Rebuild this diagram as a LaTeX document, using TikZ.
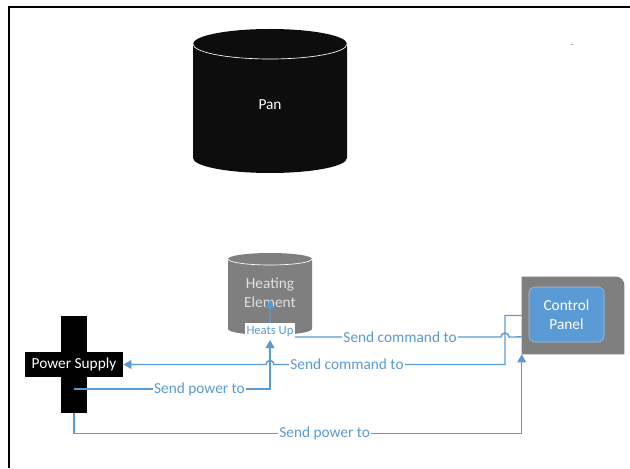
\documentclass[tikz,border=0pt]{standalone}
\usepackage{fontspec}
\setmainfont{Carlito}
\usepackage{xcolor}
\usetikzlibrary{arrows.meta, positioning, calc}

\definecolor{linkblue}{HTML}{5B9BD5}
\definecolor{shapegray}{HTML}{7F7F7F}
\definecolor{panblack}{HTML}{0D0D0D}
\definecolor{panelrim}{HTML}{A9C4E0}

\begin{document}
\begin{tikzpicture}[
    x=0.75pt, y=0.75pt,
    font=\fontsize{11.5}{14}\selectfont,
    rim/.style={draw=white, line width=0.5pt},
    bar/.style={rectangle, fill=black, inner sep=0pt},
    link/.style={draw=linkblue, line width=1.1pt, ->, >={Triangle[length=6pt,width=6.5pt]}},
    lbl/.style={fill=white, text=linkblue, inner sep=1pt}
]
\useasboundingbox (0,0) rectangle (630,468);

% Page frame
\draw[line width=1.6pt] (9,0) -- (9,461) -- (630,461);

% Pan (cylinder, rx=77 ry=15)
\fill[panblack] (193,424) -- (193,310) arc[start angle=180, end angle=360, x radius=77, y radius=15]
    -- (347,424) arc[start angle=0, end angle=180, x radius=77, y radius=15] -- cycle;
\draw[rim] (193,424) arc[start angle=180, end angle=360, x radius=77, y radius=15];
\node[text=white] (pan) at (270,363) {Pan};

% Heating element (cylinder, rx=42 ry=6)
\fill[shapegray] (228,209) -- (228,139) arc[start angle=180, end angle=360, x radius=42, y radius=6]
    -- (312,209) arc[start angle=0, end angle=180, x radius=42, y radius=6] -- cycle;
\draw[rim] (228,209) arc[start angle=180, end angle=360, x radius=42, y radius=6];
\node[text=white!88!black, align=center] (heat) at (270,175.5) {Heating\\Element};
\coordinate (heatin) at (270,128);

% Power supply (cross)
\node[bar, minimum width=19.5pt, minimum height=72.75pt] (powerbar) at (74,103.5) {};
\node[bar, minimum width=73.5pt, minimum height=18.75pt, text=white] (power) at (74,103.5) {Power Supply};

% Control panel
\node[minimum width=76.5pt, minimum height=57.75pt, inner sep=0pt] (panelbox) at (573,152.5) {};
\fill[shapegray] (panelbox.south west) -- (panelbox.north west) -- ([xshift=-6pt]panelbox.north east)
    arc[start angle=90, end angle=0, radius=6pt] -- (panelbox.south east) -- cycle;
\node[rectangle, rounded corners=4.5pt, fill=linkblue, draw=panelrim, text=white, align=center,
    minimum width=56.25pt, minimum height=41.25pt] (panel) at (566.5,153.5) {Control\\Panel};

% Stray mark
\node[text=gray, font=\scriptsize] (mark) at (572,422) {-};

% Command to power supply
\draw[link] (panelbox.west) -- (505,152.5) -- (505,103.5) -- node[lbl, pos=0.684] {Send command to} (274,103.5)
    arc[start angle=0, end angle=180, radius=4] -- (power.east);

% Command to heating element
\draw[link] ([yshift=-16.1pt]panelbox.west) -- (509,131) arc[start angle=0, end angle=180, radius=4]
    -- node[lbl, pos=0.437] {Send command to} (270,131)
    -- node[lbl, pos=0.16, font=\fontsize{9.5}{11}\selectfont, minimum height=12pt] {Heats Up} ($(heat.center)+(0,-7.5)$);

% Power to heating element
\draw[link] ($(powerbar.center)+(0,-24.5)$) -- node[lbl, pos=0.64] {Send power to} (270,79) -- (heatin);

% Power to control panel
\draw[link] (powerbar.south) -- ++(0,-20) -| node[lbl, pos=0.28] {Send power to} (panelbox.south west);

\end{tikzpicture}
\end{document}
